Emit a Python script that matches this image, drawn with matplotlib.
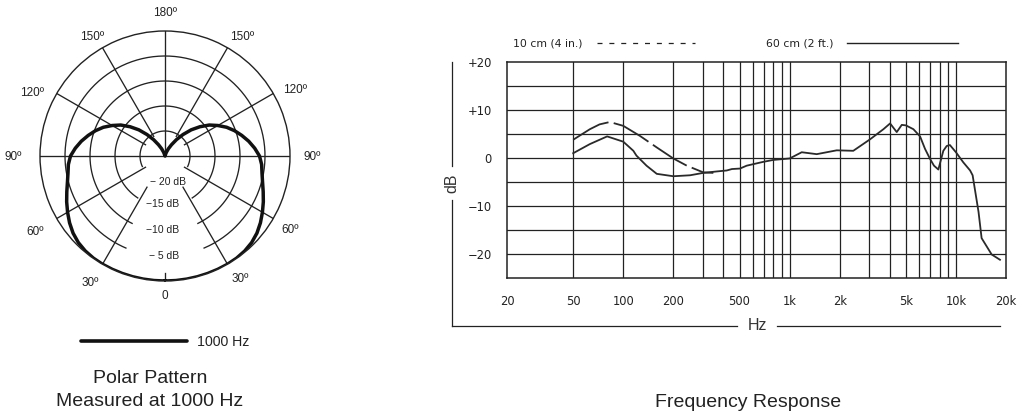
import numpy as np
import matplotlib
matplotlib.use("Agg")
import matplotlib.pyplot as plt
from matplotlib.lines import Line2D

W, H = 1024, 412

# polar pattern at 1000 Hz, dB per angle (symmetric left/right)
polar_angles = [0, 5, 10, 15, 20, 25, 30, 35, 40, 45, 50, 55, 60, 65, 70, 75, 80, 85, 90,
                95, 100, 105, 110, 115, 120, 125, 130, 135, 140, 145, 150, 155, 160, 170, 180]
polar_db = [0.0, 0.0, 0.0, 0.0, 0.0, 0.0, 0.0, -0.05, -0.2, -0.5, -1.0, -1.7, -2.5, -3.3,
            -4.1, -4.8, -5.3, -5.6, -6.1, -7.0, -8.0, -9.1, -10.2, -11.4, -12.8, -14.2,
            -15.9, -17.6, -19.4, -21.0, -22.4, -23.4, -24.2, -24.9, -25.0]
ring_db = [-20, -15, -10, -5]
ring_labels = ["\u2212 20 dB", "\u221215 dB", "\u221210 dB", "\u2212 5 dB"]

# frequency response, 10 cm (dashed) and 60 cm (solid)
near_freq = [50, 63, 72, 83, 100, 126, 159, 200, 241, 303, 348]
near_db = [3.8, 6.0, 7.0, 7.5, 6.7, 4.6, 2.2, -0.1, -1.6, -3.0, -3.1]

far_freq = [50, 63, 80, 100, 115, 120, 138, 159, 200, 252, 303, 365, 419, 450, 503, 552,
            695, 798, 1000, 1183, 1456, 1920, 2415, 3048, 3665, 4020, 4407, 4725, 5000,
            5550, 6086, 6520, 6990, 7380, 7840, 8400, 8800, 9200, 10000, 11070, 12170,
            12600, 13670, 14270, 16400, 18400]
far_db = [1.0, 2.9, 4.5, 3.4, 1.5, 0.5, -1.6, -3.3, -3.8, -3.6, -3.1, -2.8, -2.6, -2.3, -2.2,
          -1.6, -0.8, -0.4, -0.1, 1.2, 0.8, 1.6, 1.5, 3.9, 6.0, 7.2, 5.4, 6.9, 6.8,
          6.0, 4.5, 1.9, -0.2, -1.6, -2.4, 1.5, 2.5, 2.7, 1.2, -0.9, -2.6,
          -3.6, -11.2, -16.7, -20.1, -21.2]

grid_freqs = [50, 100, 200, 300, 400, 500, 600, 700, 800, 900, 1000,
              2000, 3000, 4000, 5000, 6000, 7000, 8000, 9000, 10000]
xtick_vals = [20, 50, 100, 200, 500, 1000, 2000, 5000, 10000, 20000]
xtick_text = ["20", "50", "100", "200", "500", "1k", "2k", "5k", "10k", "20k"]
ytick_vals = [-20, -10, 0, 10, 20]
ytick_text = ["\u221220", "\u221210", "0", "+10", "+20"]

INK = "#222222"
SANS = ["Liberation Sans", "DejaVu Sans"]
WIDE = ["DejaVu Sans"]


# pixel position in the 1024x412 picture -> figure fraction
def px(x, y):
    return x / W, 1 - y / H


def fig_line(fig, xs, ys, **kw):
    fx = [x / W for x in xs]
    fy = [1 - y / H for y in ys]
    fig.add_artist(Line2D(fx, fy, transform=fig.transFigure, **kw))


def main():
    fig = plt.figure(figsize=(W / 100, H / 100), dpi=100)

    # ---------------- polar pattern ----------------
    cx, cy, R = 165, 156, 125
    pax = fig.add_axes([(cx - R) / W, 1 - (cy + R) / H, 2 * R / W, 2 * R / H], projection="polar")
    pax.set_theta_zero_location("S")
    pax.set_rlim(-25, 0)
    pax.grid(False)
    pax.set_xticks([])
    pax.set_yticks([])
    pax.spines["polar"].set_linewidth(1.0)
    pax.spines["polar"].set_color(INK)

    gkw = dict(color=INK, lw=0.95)
    # rings, open at the bottom where the labels sit
    gaps = [65, 33, 26, 23]
    for db, gap in zip(ring_db, gaps):
        t = np.radians(np.linspace(gap, 360 - gap, 300))
        pax.plot(t, np.full_like(t, db), **gkw)
    # spokes
    for a in [60, 120, 150, 210, 240, 300]:
        pax.plot(np.radians([a, a]), [-20.5, 0], **gkw)
    for a in [30, 330]:
        pax.plot(np.radians([a, a]), [-17.8, 0], **gkw)
    pax.plot(np.radians([90, 90]), [-25, 0], **gkw)
    pax.plot(np.radians([270, 270]), [-25, 0], **gkw)
    pax.plot(np.radians([180, 180]), [-25, 0], **gkw)
    pax.plot(np.radians([0, 0]), [-1.7, 0], **gkw)

    ang = np.array(polar_angles, dtype=float)
    db = np.array(polar_db)
    full_ang = np.concatenate([ang, 360 - ang[::-1][1:]])
    full_db = np.concatenate([db, db[::-1][1:]])
    pax.plot(np.radians(full_ang), full_db, color="#111111", lw=2.5, solid_joinstyle="round")

    # angle labels
    deg_labels = [("180\u00ba", 165, 13), ("150\u00ba", 92, 37), ("150\u00ba", 242, 37),
                  ("120\u00ba", 32, 93), ("120\u00ba", 295, 90), ("90\u00ba", 13, 157),
                  ("90\u00ba", 312, 157), ("60\u00ba", 35, 232), ("60\u00ba", 290, 230),
                  ("30\u00ba", 90, 283), ("30\u00ba", 240, 279), ("0", 165, 296)]
    for s, x, y in deg_labels:
        fig.text(*px(x, y), s, ha="center", va="center", fontsize=8.5, color=INK, family=SANS)
    ring_pos = [(168, 182), (163, 204), (163, 230), (164, 256)]
    for s, (x, y) in zip(ring_labels, ring_pos):
        fig.text(*px(x, y), s, ha="center", va="center", fontsize=7.5, color=INK, family=SANS)

    fig_line(fig, [81, 187], [341, 341], color="#111111", lw=2.6, solid_capstyle="round")
    fig.text(*px(197, 346), "1000 Hz", ha="left", va="baseline", fontsize=10.2, color=INK, family=SANS)
    fig.text(*px(150, 383), "Polar Pattern", ha="center", va="baseline", fontsize=14, color=INK, family=SANS)
    fig.text(*px(150, 406), "Measured at 1000 Hz", ha="center", va="baseline", fontsize=14,
             color=INK, family=SANS)

    # ---------------- frequency response ----------------
    left, right, top, bottom = 507, 1006, 62, 278
    ax = fig.add_axes([left / W, 1 - bottom / H, (right - left) / W, (bottom - top) / H])
    ax.set_xscale("log")
    ax.set_xlim(20, 20000)
    ax.set_ylim(-25, 20)
    for f in grid_freqs:
        ax.axvline(f, color=INK, lw=0.9)
    for y in range(-20, 20, 5):
        ax.axhline(y, color=INK, lw=0.9)
    for s in ax.spines.values():
        s.set_linewidth(1.1)
        s.set_color(INK)

    ax.plot(near_freq, near_db, color="#2a2a2a", lw=1.3, linestyle=(0, (22, 3)))
    ax.plot(far_freq, far_db, color="#2a2a2a", lw=1.3)

    ax.minorticks_off()
    ax.set_xticks(xtick_vals, xtick_text)
    ax.set_yticks(ytick_vals, ytick_text)
    ax.tick_params(length=0, labelsize=8.3, labelcolor=INK)
    ax.tick_params(axis="x", pad=12)
    ax.tick_params(axis="y", pad=11)
    for t in ax.get_xticklabels() + ax.get_yticklabels():
        t.set_family(WIDE)

    # dB label with its rule
    fig_line(fig, [452, 452], [62, 166], color=INK, lw=0.9)
    fig_line(fig, [452, 452], [200, 326], color=INK, lw=0.9)
    fig.text(*px(452, 183), "dB", rotation=90, ha="center", va="center", fontsize=11.5,
             color="#333333", family=SANS)
    # Hz label with its rule
    fig_line(fig, [452, 737], [326, 326], color=INK, lw=0.9)
    fig_line(fig, [777, 1000], [326, 326], color=INK, lw=0.9)
    fig.text(*px(757, 326), "Hz", ha="center", va="center", fontsize=11.5, color="#333333", family=SANS)

    # key at the top
    fig.text(*px(513, 43), "10 cm (4 in.)", ha="left", va="center", fontsize=7.8, color=INK, family=WIDE)
    fig_line(fig, [597, 695], [43, 43], color=INK, lw=0.9, linestyle=(0, (4, 5.5)))
    fig.text(*px(766, 43), "60 cm (2 ft.)", ha="left", va="center", fontsize=7.8, color=INK, family=WIDE)
    fig_line(fig, [847, 958], [43, 43], color=INK, lw=1.0)

    fig.text(*px(748, 407), "Frequency Response", ha="center", va="baseline", fontsize=14,
             color=INK, family=SANS)

    fig.savefig("out.png", dpi=100, facecolor="white")
    plt.close(fig)


if __name__ == "__main__":
    main()
